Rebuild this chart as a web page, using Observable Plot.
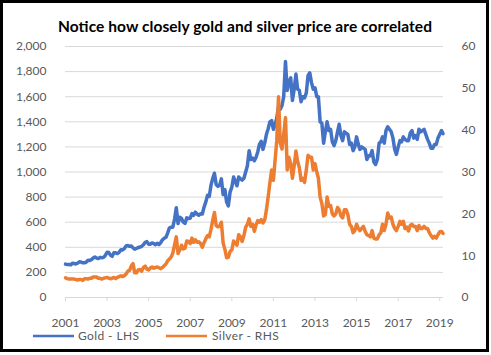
<!DOCTYPE html>
<html><head><meta charset="utf-8">
<script src="https://cdn.jsdelivr.net/npm/d3@7"></script>
<script src="https://cdn.jsdelivr.net/npm/@observablehq/plot@0.6"></script>
<style>body{margin:0;background:#fff}</style>
</head><body><div id="chart"></div>
<script>
const title = "Notice how closely gold and silver price are correlated";
const startYear = 2001; // first month of series: Jan 2001, monthly
const gold = [
 266,262,264,260,272,271,267,273,284,283,276,276,
 282,296,295,302,314,322,314,310,320,317,320,335,
 360,358,338,328,356,357,350,360,380,379,390,410,
 414,408,410,395,385,392,398,402,408,420,440,445,
 425,425,435,430,420,432,422,438,460,472,480,515,
 555,560,560,625,715,590,640,630,600,590,635,630,
 632,668,655,680,665,655,668,665,720,760,815,805,
 895,950,990,900,885,895,945,820,860,760,730,840,
 880,960,925,890,960,945,935,950,1000,1050,1170,1100,
 1110,1090,1115,1160,1220,1245,1180,1230,1300,1345,1400,1410,
 1340,1380,1430,1520,1500,1530,1600,1880,1650,1720,1750,1570,
 1660,1780,1660,1650,1560,1600,1590,1630,1770,1790,1710,1660,
 1670,1600,1600,1400,1390,1230,1320,1400,1330,1340,1240,1210,
 1250,1320,1380,1290,1250,1320,1310,1300,1220,1230,1170,1200,
 1280,1220,1180,1200,1190,1180,1100,1130,1130,1170,1080,1060,
 1100,1230,1240,1280,1230,1330,1360,1340,1320,1270,1180,1140,
 1200,1250,1240,1280,1260,1250,1250,1310,1330,1270,1290,1260,
 1340,1320,1330,1340,1300,1260,1230,1190,1190,1220,1220,1270,
 1300,1330,1305
];
const silver = [
 4.7,4.5,4.4,4.4,4.4,4.4,4.3,4.2,4.3,4.3,4.1,4.5,
 4.5,4.4,4.6,4.6,4.9,4.9,4.9,4.6,4.6,4.4,4.6,4.7,
 4.8,4.6,4.5,4.6,4.8,4.5,4.8,5.0,5.2,5.0,5.2,5.6,
 6.3,6.5,7.5,8.1,5.9,5.9,6.6,6.7,6.3,7.2,7.5,6.8,
 6.6,7.1,7.3,7.0,7.2,7.3,7.1,6.9,7.2,7.6,8.0,8.8,
 9.2,9.7,10.6,12.6,14.5,10.5,11.3,12.5,11.6,11.8,13.5,13.4,
 12.9,14.2,13.2,13.8,13.2,13.3,12.9,12.0,13.1,14.0,14.8,14.5,
 16.3,18.5,20.3,17.2,16.9,17.1,18.0,13.0,11.5,9.5,9.6,11.0,
 11.4,13.5,13.0,12.5,15.0,14.5,13.4,14.8,16.8,17.5,18.8,17.0,
 17.5,15.8,17.3,18.4,18.0,18.6,17.8,18.5,21.0,24.0,27.5,30.5,
 28.0,33.0,37.5,48.0,37.0,35.5,39.0,43.0,30.5,33.5,32.0,28.5,
 31.5,35.0,32.5,31.0,28.0,28.5,27.5,30.5,34.0,33.5,33.5,30.5,
 32.0,30.0,28.5,24.0,22.5,19.5,19.8,24.0,21.8,22.0,20.0,19.5,
 20.0,21.5,21.0,19.5,19.0,21.0,21.0,19.8,17.5,17.0,15.5,16.0,
 17.5,16.5,16.0,16.5,17.0,15.8,15.0,14.8,14.5,16.0,14.2,14.0,
 14.0,15.0,15.4,17.5,16.0,17.5,20.2,19.0,19.2,17.5,16.5,16.0,
 17.0,18.2,17.5,18.2,16.5,16.8,15.9,17.2,17.5,17.0,17.0,16.0,
 17.2,16.5,16.5,17.0,16.5,16.5,15.5,14.8,14.2,14.6,14.2,15.0,
 15.7,15.8,15.3
];
const yearLabels = ["2001","2003","2005","2007","2009","2011","2013","2015","2017","2019"];
const leftTicks = [0,200,400,600,800,1000,1200,1400,1600,1800,2000];
const rightTicks = [0,10,20,30,40,50,60];
const seriesNames = ["Gold - LHS","Silver - RHS"];
const colors = ["#4472C4","#ED7D31"];

const leftMax = 2000, rightMax = 60;
const toLeft = s => s * leftMax / rightMax;
const rows = gold.map((g,i)=>({date:new Date(startYear, i, 1), gold:g, silver:silver[i]}));
const yearDates = yearLabels.map(y=>new Date(+y,0,1));
const txt = "#595959";
const font = "Lato, 'Liberation Sans', sans-serif";

const chart = Plot.plot({
  width:491, height:355,
  marginLeft:65, marginRight:48, marginTop:46, marginBottom:58,
  style:{fontFamily:font, fontSize:"12px", color:txt, background:"#fff"},
  x:{type:"time", domain:[new Date(2001,0,1), new Date(2019,2,8)], label:null},
  y:{domain:[0,leftMax], label:null},
  marks:[
    Plot.gridY(leftTicks,{stroke:"#d9d9d9", strokeOpacity:1}),
    Plot.axisX(yearDates,{tickSize:4, stroke:"#d9d9d9", strokeOpacity:1, tickFormat:()=>"", label:null}),
    Plot.axisX(yearDates,{tickSize:0, tickPadding:21, tickFormat:d3.timeFormat("%Y"), fill:txt, fontSize:12, label:null}),
    Plot.axisY(leftTicks,{anchor:"left", tickSize:0, tickPadding:19, tickFormat:d3.format(","), fill:txt, fontSize:12, label:null}),
    Plot.axisY(rightTicks.map(toLeft),{anchor:"right", tickSize:0, tickPadding:18, textAnchor:"start",
      tickFormat:d=>d3.format(",")(Math.round(d*rightMax/leftMax)), fill:txt, fontSize:12, label:null}),
    Plot.lineY(rows,{x:"date", y:"gold", stroke:colors[0], strokeWidth:3.5}),
    Plot.lineY(rows,{x:"date", y:d=>toLeft(d.silver), stroke:colors[1], strokeWidth:3.5})
  ]
});

const svg = d3.select(chart);
svg.append("text").text(title)
  .attr("x",58).attr("y",31.5).attr("text-anchor","start")
  .attr("textLength",374).attr("lengthAdjust","spacing")
  .style("font-family",font).style("font-weight","bold").style("font-size","15.5px").style("fill","#000");

const legendX = [[33,74,78],[166,207,212]];
seriesNames.forEach((name,i)=>{
  const [x1,x2,tx] = legendX[i];
  svg.append("line").attr("x1",x1).attr("x2",x2).attr("y1",336).attr("y2",336)
    .attr("stroke",colors[i]).attr("stroke-width",2.5);
  svg.append("text").text(name).attr("x",tx).attr("y",340).attr("text-anchor","start")
    .style("font-family",font).style("font-size","12px").style("fill",txt).style("letter-spacing","0.4px");
});
svg.append("rect").attr("x",1.5).attr("y",1.5).attr("width",486).attr("height",349)
  .attr("fill","none").attr("stroke","#000").attr("stroke-width",3);

document.getElementById("chart").appendChild(chart);
</script>
</body></html>
